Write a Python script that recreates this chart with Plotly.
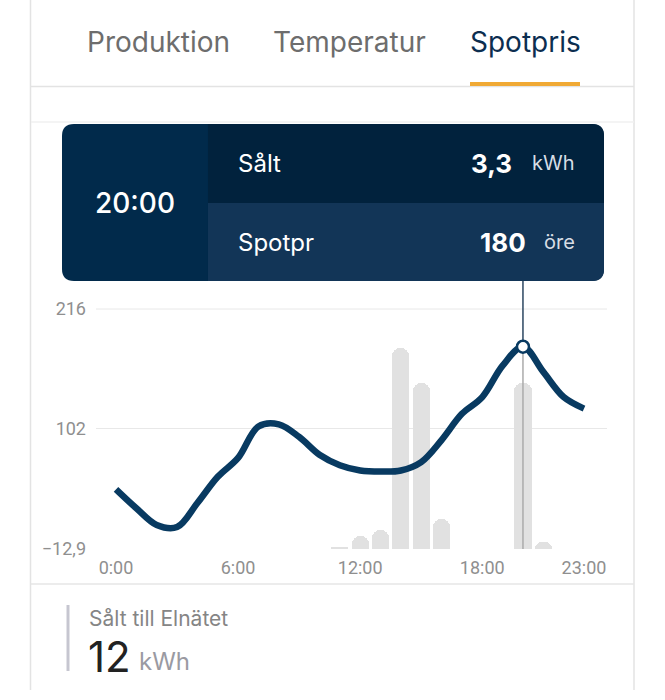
import plotly.graph_objects as go

W, H = 665, 700
MAP_H = 690  # vertical pixel scale used to place elements

# ---------------- data ----------------
hours = list(range(24))
spot_price = [44, 26, 10, 8, 31, 56, 74, 104, 106, 94, 77, 67, 62, 61, 62, 70, 91, 116, 132, 162, 180, 156, 132, 121]
sold_hours = [11, 12, 13, 14, 15, 16, 20, 21]
sold_kwh = [0.02, 0.25, 0.38, 4.0, 3.3, 0.6, 3.3, 0.14]
x_tickvals = [0, 6, 12, 18, 23]
x_ticktext = ["0:00", "6:00", "12:00", "18:00", "23:00"]
y_tickvals = [-12.9, 102, 216]
y_ticktext = ["\u221212,9", "102", "216"]
grid_vals = [102, 216]
tabs = ["Produktion", "Temperatur", "Spotpris"]
sel_hour = 20
sel_label = "20:00"
sel_price = 180
sel_sold = "3,3"
total_sold = "12"

# ---------------- helpers ----------------
def px(x):
    return x / W

def py(y):
    return 1 - y / MAP_H

def rr_path(x0, y0, x1, y1, tl, tr, br, bl):
    def p(x, y):
        return f"{px(x):.5f},{py(y):.5f}"
    return (f"M{p(x0+tl, y0)} L{p(x1-tr, y0)} Q{p(x1, y0)} {p(x1, y0+tr)} "
            f"L{p(x1, y1-br)} Q{p(x1, y1)} {p(x1-br, y1)} "
            f"L{p(x0+bl, y1)} Q{p(x0, y1)} {p(x0, y1-bl)} "
            f"L{p(x0, y0+tl)} Q{p(x0, y0)} {p(x0+tl, y0)} Z")

NAVY_LINE = "#083a61"
TICK_FONT = dict(family="Roboto", size=18, color="#8f8f8f")
APP_FONT = "Inter"

# axis geometry
x_range = [-0.983, 24.13]
y_min = -12.9
y_top = 242.7
kwh_top = 5.33
dom_y = [py(549), py(281)]
dom_x = [px(96), px(607)]

fig = go.Figure()

# bars (main y axis, kWh)
fig.add_trace(go.Bar(
    x=sold_hours, y=sold_kwh, yaxis="y", xaxis="x",
    marker=dict(color="#e1e1e1", line=dict(width=0)),
    width=0.84, showlegend=False, hoverinfo="skip"))

# gray guide inside selected bar
fig.add_trace(go.Scatter(
    x=[sel_hour, sel_hour], y=[y_min, sel_price], yaxis="y2",
    mode="lines", line=dict(color="#ababab", width=1.5),
    showlegend=False, hoverinfo="skip"))

# connector up to tooltip
fig.add_trace(go.Scatter(
    x=[sel_hour, sel_hour], y=[sel_price, y_top], yaxis="y2",
    mode="lines", line=dict(color="#2b4661", width=1.5),
    showlegend=False, hoverinfo="skip"))

# spot price line
fig.add_trace(go.Scatter(
    x=hours, y=spot_price, yaxis="y2", mode="lines",
    line=dict(color=NAVY_LINE, width=6.5, shape="spline", smoothing=1.0),
    showlegend=False, hoverinfo="skip"))

# selected marker
fig.add_trace(go.Scatter(
    x=[sel_hour], y=[sel_price], yaxis="y2", mode="markers",
    marker=dict(size=12, color="white", line=dict(color=NAVY_LINE, width=2.5)),
    showlegend=False, hoverinfo="skip", cliponaxis=False))

shapes = []
# gridlines
for g in grid_vals:
    shapes.append(dict(type="line", xref="x domain", yref="y2", x0=0, x1=1, y0=g, y1=g,
                       line=dict(color="#e8e8e8", width=1), layer="below"))

# card borders
for xv in (30.5, 634):
    shapes.append(dict(type="line", xref="paper", yref="paper", x0=px(xv), x1=px(xv), y0=0, y1=1,
                       line=dict(color="#e3e3e3", width=1.5), layer="below"))
shapes.append(dict(type="line", xref="paper", yref="paper", x0=px(31), x1=px(634), y0=py(86.5), y1=py(86.5),
                   line=dict(color="#e3e3e3", width=1.5), layer="below"))
shapes.append(dict(type="line", xref="paper", yref="paper", x0=px(31), x1=px(634), y0=py(122), y1=py(122),
                   line=dict(color="#f0f0f0", width=1.5), layer="below"))
shapes.append(dict(type="line", xref="paper", yref="paper", x0=px(31), x1=px(634), y0=py(584), y1=py(584),
                   line=dict(color="#e6e6e6", width=1.5), layer="below"))
# tab underline
shapes.append(dict(type="rect", xref="paper", yref="paper", x0=px(470), x1=px(580), y0=py(86), y1=py(82),
                   fillcolor="#f0a934", line=dict(width=0), layer="above"))
# summary accent bar
shapes.append(dict(type="rect", xref="paper", yref="paper", x0=px(66.5), x1=px(69.5), y0=py(671), y1=py(605),
                   fillcolor="#c6c6d0", line=dict(width=0), layer="above"))

# tooltip
shapes.append(dict(type="path", xref="paper", yref="paper", path=rr_path(62, 124, 604, 281, 12, 12, 12, 12),
                   fillcolor="#012a4b", line=dict(width=0), layer="above"))
shapes.append(dict(type="path", xref="paper", yref="paper", path=rr_path(208, 124, 604, 203, 0, 12, 0, 0),
                   fillcolor="#01223d", line=dict(width=0), layer="above"))
shapes.append(dict(type="path", xref="paper", yref="paper", path=rr_path(208, 203, 604, 281, 0, 0, 12, 0),
                   fillcolor="#123557", line=dict(width=0), layer="above"))

ann = []
def text(x, y, s, size, color, xanchor="left", family=APP_FONT, weight=None):
    f = dict(family=family, size=size, color=color)
    if weight:
        f["weight"] = weight
    ann.append(dict(xref="paper", yref="paper", x=px(x), y=py(y), text=s, showarrow=False,
                    xanchor=xanchor, yanchor="middle", font=f))

# tabs
text(158, 42, tabs[0], 28, "#6d6d6d", "center")
text(349.5, 42, tabs[1], 28, "#6d6d6d", "center")
text(525.5, 42, tabs[2], 28, "#0c2e50", "center")

# tooltip texts
text(135, 203, sel_label, 28, "white", "center", weight=500)
text(236, 163, "Sålt", 24, "white")
text(514, 163, f"<b>{sel_sold}</b>", 26, "white", "right")
text(530, 163, "kWh", 20, "#d7dde5")
text(236, 242, "Spotpr", 24, "white")
text(528, 242, f"<b>{sel_price}</b>", 26, "white", "right")
text(542, 242, "öre", 20, "#d7dde5")

# summary
text(87, 618, "Sålt till Elnätet", 21, "#858585")
text(86, 656, total_sold, 42, "#222222")
text(137, 661, "kWh", 24, "#9a9aa2")

fig.update_layout(
    width=W, height=H, margin=dict(l=0, r=0, t=0, b=0),
    paper_bgcolor="white", plot_bgcolor="rgba(0,0,0,0)",
    showlegend=False, bargap=0, barcornerradius=8,
    xaxis=dict(domain=dom_x, range=x_range, tickvals=x_tickvals, ticktext=x_ticktext,
               showgrid=False, zeroline=False, showline=False, ticks="",
               tickfont=TICK_FONT, ticklabelstandoff=6, anchor="y"),
    yaxis=dict(domain=dom_y, range=[0, kwh_top], visible=False, fixedrange=True),
    yaxis2=dict(domain=dom_y, range=[y_min, y_top], overlaying="y", side="left", anchor="x",
                tickvals=y_tickvals, ticktext=y_ticktext, showgrid=False, zeroline=False,
                showline=False, ticks="", tickfont=TICK_FONT, ticklabelstandoff=9),
    shapes=shapes, annotations=ann,
)

fig.write_html("out.html")
